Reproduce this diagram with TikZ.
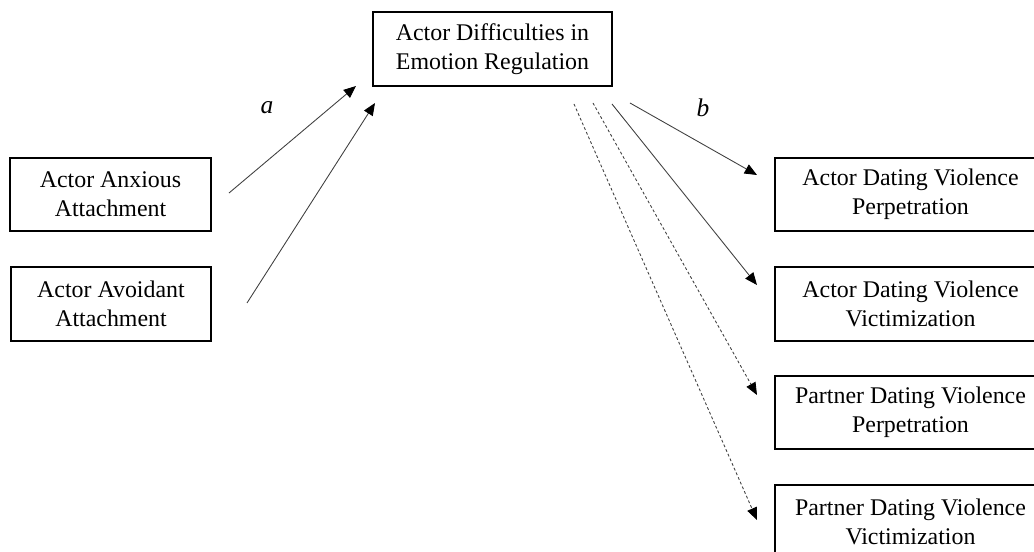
\documentclass[tikz,border=0pt]{standalone}
\usepackage{fontspec}
\setmainfont{Liberation Serif}
\usetikzlibrary{arrows.meta}
\tikzset{
  varbox/.style={draw=black, line width=0.9pt, align=center, minimum height=1.47cm,
    font=\fontsize{13.6}{16.5}\selectfont},
  path/.style={draw=black!75, line width=0.5pt, -{Triangle[length=7pt,width=5.8pt,color=black]}},
  nspath/.style={path, dash pattern=on 1.6pt off 1.3pt}
}
\begin{document}
\begin{tikzpicture}[scale=0.2]
\tikzstyle{every node}+=[inner sep=0pt]
\useasboundingbox (0,0) rectangle (103.4,-55.2);
% boxes
\node [varbox, minimum width=4.02cm] (anx) at (11.05,-19.45) {Actor Anxious\\Attachment};
\node [varbox, minimum width=4.0cm] (avo) at (11.1,-30.4) {Actor Avoidant\\Attachment};
\node [varbox, minimum width=4.78cm] (der) at (49.25,-4.9) {Actor Difficulties in\\Emotion Regulation};
\node [varbox, minimum width=5.42cm] (aperp) at (91.05,-19.45) {Actor Dating Violence\\Perpetration};
\node [varbox, minimum width=5.42cm] (avict) at (91.05,-30.4) {Actor Dating Violence\\Victimization};
\node [varbox, minimum width=5.42cm] (pperp) at (91.05,-41.25) {Partner Dating Violence\\Perpetration};
\node [varbox, minimum width=5.42cm] (pvict) at (91.05,-52.15) {Partner Dating Violence\\Victimization};
% arrow ends
\coordinate (anxout) at (22.9,-19.3);
\coordinate (avoout) at (24.7,-30.3);
\coordinate (derin1) at (35.6,-8.6);
\coordinate (derin2) at (37.5,-10.3);
\coordinate (derout1) at (63.0,-10.3);
\coordinate (derout2) at (61.2,-10.4);
\coordinate (derout3) at (59.3,-10.3);
\coordinate (derout4) at (57.4,-10.4);
\coordinate (aperpin) at (75.7,-17.5);
\coordinate (avictin) at (75.7,-28.5);
\coordinate (pperpin) at (75.7,-39.5);
\coordinate (pvictin) at (75.7,-52.0);
% a paths
\draw [path] (anxout) -- (derin1);
\draw [path] (avoout) -- (derin2);
\node [font=\fontsize{14.5}{16.5}\selectfont\itshape] (lbla) at (26.7,-10.8) {a};
% b paths
\draw [path] (derout1) -- (aperpin);
\draw [path] (derout2) -- (avictin);
\draw [nspath] (derout3) -- (pperpin);
\draw [nspath] (derout4) -- (pvictin);
\node [font=\fontsize{14.5}{16.5}\selectfont\itshape] (lblb) at (70.3,-10.8) {b};
\end{tikzpicture}
\end{document}
